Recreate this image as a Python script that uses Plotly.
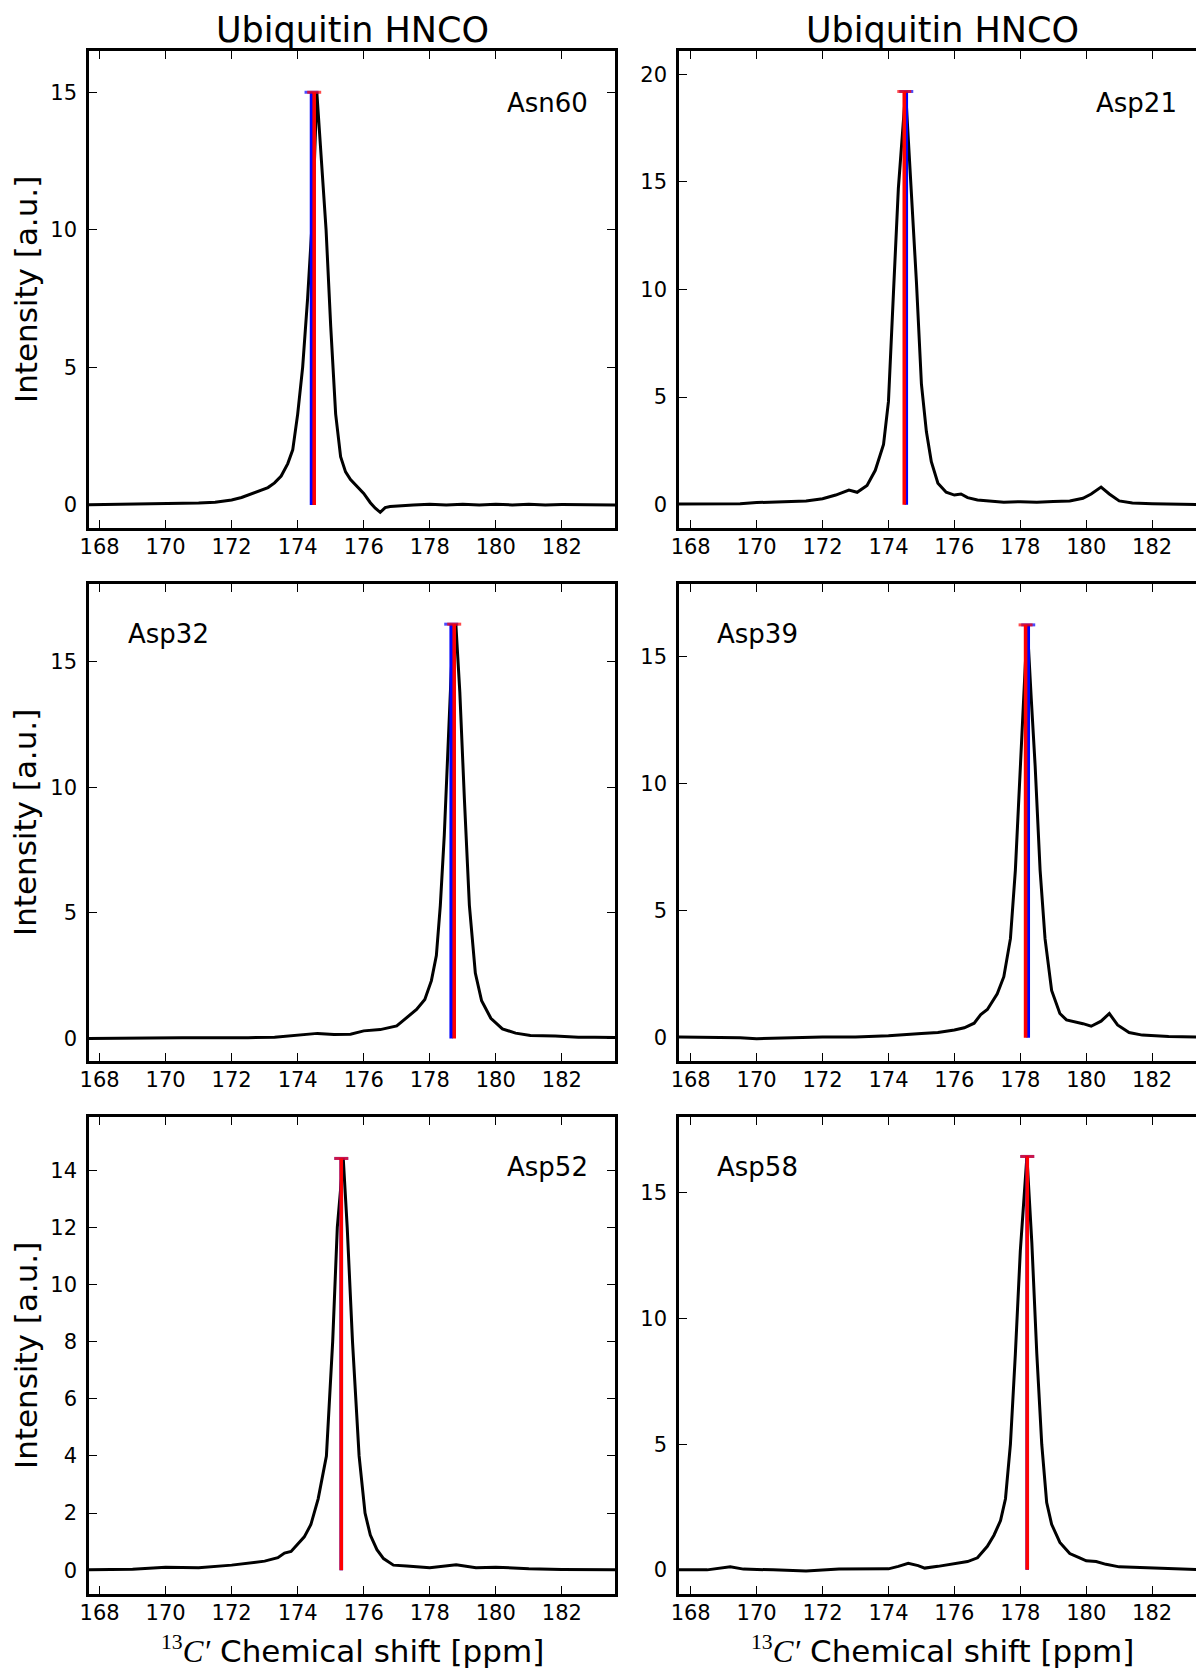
import plotly.graph_objects as go

# ---------------- data ----------------
residues = ["Asn60", "Asp21", "Asp32", "Asp39", "Asp52", "Asp58"]

x_asn60 = [167.6, 168.5, 169.0, 169.5, 170.0, 170.5, 171.0, 171.5, 172.0, 172.3, 172.6, 172.9, 173.1, 173.3,
           173.5, 173.7, 173.85, 174.0, 174.15, 174.3, 174.45, 174.58, 174.72, 174.86, 175.0, 175.15, 175.3,
           175.45, 175.6, 175.8, 176.0, 176.2, 176.35, 176.5, 176.65, 176.8, 177.0, 177.5, 178.0, 178.5,
           179.0, 179.5, 180.0, 180.5, 181.0, 181.5, 182.0, 182.5, 183.0, 183.7]
y_asn60 = [0.0, 0.02, 0.03, 0.04, 0.05, 0.05, 0.07, 0.1, 0.18, 0.27, 0.4, 0.52, 0.63, 0.8,
           1.05, 1.5, 2.0, 3.3, 5.0, 7.5, 10.5, 15.0, 12.3, 10.0, 6.5, 3.3, 1.75,
           1.2, 0.92, 0.65, 0.42, 0.08, -0.12, -0.27, -0.1, -0.06, -0.04, 0.0, 0.02, 0.0,
           0.02, 0.0, 0.02, 0.0, 0.02, 0.0, 0.01, 0.0, 0.0, 0.0]

x_asp21 = [167.6, 168.5, 169.0, 169.5, 170.0, 170.5, 171.0, 171.5, 172.0, 172.4, 172.8, 173.05, 173.35,
           173.6, 173.85, 174.0, 174.15, 174.3, 174.52, 174.7, 174.85, 175.0, 175.15, 175.3, 175.5, 175.75,
           176.0, 176.2, 176.4, 176.7, 177.0, 177.5, 178.0, 178.5, 179.0, 179.5, 179.9, 180.15, 180.45,
           180.7, 181.0, 181.4, 182.0, 182.5, 183.0, 183.7]
y_asp21 = [0.03, 0.04, 0.03, 0.05, 0.1, 0.12, 0.14, 0.18, 0.28, 0.45, 0.68, 0.58, 0.9,
           1.6, 2.8, 4.8, 9.8, 14.7, 19.2, 14.6, 10.3, 5.6, 3.4, 2.0, 1.0, 0.58,
           0.45, 0.5, 0.33, 0.22, 0.17, 0.12, 0.14, 0.12, 0.15, 0.17, 0.3, 0.5, 0.82,
           0.5, 0.18, 0.08, 0.05, 0.03, 0.02, 0.0]

x_asp32 = [167.6, 168.5, 169.5, 170.5, 171.5, 172.5, 173.3, 173.9, 174.6, 175.1, 175.6, 176.0, 176.5,
           177.0, 177.35, 177.6, 177.85, 178.05, 178.2, 178.32, 178.44, 178.56, 178.67, 178.79, 178.91,
           179.05, 179.2, 179.38, 179.57, 179.85, 180.2, 180.6, 181.05, 181.8, 182.5, 183.0, 183.7]
y_asp32 = [0.0, 0.02, 0.02, 0.03, 0.02, 0.03, 0.05, 0.12, 0.2, 0.16, 0.17, 0.3, 0.35,
           0.5, 0.9, 1.15, 1.55, 2.3, 3.3, 5.3, 8.1, 11.9, 15.2, 16.5, 13.8,
           9.5, 5.3, 2.6, 1.5, 0.8, 0.38, 0.21, 0.12, 0.1, 0.05, 0.05, 0.03]

x_asp39 = [167.6, 168.5, 169.5, 170.0, 171.0, 172.0, 173.0, 174.0, 175.0, 175.5, 176.0, 176.3, 176.6,
           176.8, 177.0, 177.3, 177.5, 177.7, 177.85, 178.0, 178.1, 178.21, 178.33, 178.45, 178.6, 178.75,
           178.95, 179.2, 179.4, 179.7, 179.9, 180.15, 180.45, 180.7, 180.95, 181.3, 181.7, 182.5, 183.0, 183.7]
y_asp39 = [0.03, 0.02, 0.0, -0.04, 0.0, 0.03, 0.03, 0.07, 0.16, 0.2, 0.3, 0.39, 0.57,
           0.91, 1.11, 1.73, 2.4, 3.9, 6.6, 10.7, 13.4, 16.26, 13.4, 10.7, 6.6, 3.9,
           1.86, 0.95, 0.7, 0.62, 0.55, 0.45, 0.65, 0.95, 0.5, 0.2, 0.1, 0.05, 0.03, 0.02]

x_asp52 = [167.6, 168.5, 169.0, 170.0, 171.0, 172.0, 172.6, 173.0, 173.4, 173.6, 173.8, 174.0, 174.2,
           174.4, 174.62, 174.87, 175.06, 175.2, 175.38, 175.5, 175.66, 175.86, 176.04, 176.2, 176.4,
           176.6, 176.9, 177.3, 178.0, 178.8, 179.4, 180.0, 181.0, 182.0, 183.0, 183.7]
y_asp52 = [0.02, 0.03, 0.04, 0.11, 0.09, 0.18, 0.27, 0.32, 0.44, 0.6, 0.66, 0.91, 1.17,
           1.6, 2.5, 4.0, 8.0, 12.0, 14.41, 12.0, 8.0, 4.0, 2.0, 1.23, 0.72,
           0.41, 0.18, 0.15, 0.09, 0.19, 0.09, 0.11, 0.05, 0.03, 0.02, 0.02]

x_asp58 = [167.6, 168.5, 169.2, 169.6, 170.5, 171.5, 172.5, 173.5, 174.0, 174.3, 174.6, 174.9, 175.1,
           175.5, 176.0, 176.4, 176.7, 177.0, 177.2, 177.4, 177.55, 177.7, 177.85, 178.0, 178.2, 178.35,
           178.5, 178.65, 178.8, 178.95, 179.2, 179.5, 179.8, 180.0, 180.3, 180.6, 181.0, 182.0, 183.0, 183.7]
y_asp58 = [0.0, 0.0, 0.12, 0.03, 0.0, -0.04, 0.03, 0.03, 0.04, 0.14, 0.26, 0.17, 0.07,
           0.14, 0.25, 0.33, 0.48, 0.94, 1.38, 1.96, 2.83, 5.0, 8.6, 12.7, 16.45, 13.0,
           8.6, 5.0, 2.68, 1.81, 1.09, 0.65, 0.48, 0.36, 0.33, 0.22, 0.12, 0.07, 0.02, 0.0]

# assigned peak positions (blue / red sticks) and stick heights
blue_ppm = [174.42, 174.54, 178.65, 178.24, 175.32, 178.21]
red_ppm = [174.50, 174.48, 178.74, 178.16, 175.32, 178.21]
stick_height = [15.0, 19.2, 16.5, 16.26, 14.41, 16.45]

# axis ticks / ranges
x_ticks = [168, 170, 172, 174, 176, 178, 180, 182]
y_ticks = [[0, 5, 10, 15], [0, 5, 10, 15, 20], [0, 5, 10, 15], [0, 5, 10, 15],
           [0, 2, 4, 6, 8, 10, 12, 14], [0, 5, 10, 15]]
y_ranges = [[-0.84, 16.5], [-1.08, 21.08], [-0.9, 18.1], [-0.92, 17.87], [-0.83, 15.86], [-0.96, 18.02]]
x_ranges = [[167.68, 183.61], [167.645, 183.33]]

spectra_x = [x_asn60, x_asp21, x_asp32, x_asp39, x_asp52, x_asp58]
spectra_y = [y_asn60, y_asp21, y_asp32, y_asp39, y_asp52, y_asp58]

title_text = "Ubiquitin HNCO"
ylabel_text = "Intensity [a.u.]"
xlabel_text = ('<span style="font-family:\'Liberation Serif\'"><sup>13</sup><i>C\u2032</i></span>'
               ' Chemical shift [ppm]')

# ---------------- layout geometry ----------------
W, H = 1196, 1668
col_dom = [[89.0 / W, 615.0 / W], [679.0 / W, 1.0]]
row_px = [(51.0, 528.0), (584.0, 1061.0), (1117.0, 1594.0)]
row_dom = [[1 - b / H, 1 - t / H] for (t, b) in row_px]

FONT = "DejaVu Sans"
TICK_SIZE = 21
fig = go.Figure()
layout = dict(
    template="none",
    width=W, height=H, autosize=False,
    margin=dict(l=0, r=0, t=0, b=0, pad=0, autoexpand=False),
    paper_bgcolor="white", plot_bgcolor="white",
    showlegend=False,
    font=dict(family=FONT, color="black"),
)

for i in range(6):
    r, c = divmod(i, 2)
    n = i + 1
    xa = "x" if n == 1 else f"x{n}"
    ya = "y" if n == 1 else f"y{n}"
    fig.add_trace(go.Scatter(x=spectra_x[i], y=spectra_y[i], mode="lines",
                             line=dict(color="black", width=3), xaxis=xa, yaxis=ya,
                             hoverinfo="skip"))
    for pos, col in ((blue_ppm[i], "#0000ff"), (red_ppm[i], "#ff0000")):
        fig.add_trace(go.Scatter(x=[pos, pos], y=[0, stick_height[i]], mode="lines+markers",
                                 line=dict(color=col, width=3.6),
                                 marker=dict(symbol="line-ew", size=[0, 10], color=col,
                                             line=dict(color=col, width=3)),
                                 xaxis=xa, yaxis=ya, hoverinfo="skip"))
    layout[f"xaxis{'' if n == 1 else n}"] = dict(
        domain=col_dom[c], range=x_ranges[c], anchor=ya, automargin=False,
        tickmode="array", tickvals=x_ticks, ticktext=[str(v) for v in x_ticks],
        ticks="inside", ticklen=8, tickwidth=1, tickcolor="black",
        showline=True, linecolor="black", linewidth=2.5, mirror="ticks",
        showgrid=False, zeroline=False, tickfont=dict(size=TICK_SIZE, family=FONT, color="black"),
        ticklabelstandoff=-2,
    )
    layout[f"yaxis{'' if n == 1 else n}"] = dict(
        domain=row_dom[r], range=y_ranges[i], anchor=xa, automargin=False,
        tickmode="array", tickvals=y_ticks[i], ticktext=[str(v) for v in y_ticks[i]],
        ticks="inside", ticklen=8, tickwidth=1, tickcolor="black",
        showline=True, linecolor="black", linewidth=2.5,
        mirror="ticks" if c == 0 else False,
        showgrid=False, zeroline=False, tickfont=dict(size=TICK_SIZE, family=FONT, color="black"),
        ticklabelstandoff=5,
    )

annotations = []
# column titles
for cx in (352.0, 942.0):
    annotations.append(dict(text=title_text, x=cx / W, y=1 - 30.0 / H, xref="paper", yref="paper",
                            xanchor="center", yanchor="middle", showarrow=False,
                            font=dict(size=35, family=FONT, color="black")))
# y labels
for (t, b) in row_px:
    annotations.append(dict(text=ylabel_text, x=25.5 / W, y=1 - (t + b) / 2 / H, xref="paper",
                            yref="paper", xanchor="center", yanchor="middle", textangle=-90,
                            showarrow=False, font=dict(size=31, family=FONT, color="black")))
# x labels
for cx in (352.0, 942.0):
    annotations.append(dict(text=xlabel_text, x=cx / W, y=1 - 1649.0 / H, xref="paper", yref="paper",
                            xanchor="center", yanchor="middle", showarrow=False,
                            font=dict(size=31, family=FONT, color="black")))
# residue labels (pixel anchor, alignment)
label_pos = [(589.5, 103.0, "right"), (1179.0, 103.0, "right"), (125.6, 634.0, "left"),
             (715.0, 634.0, "left"), (589.5, 1167.0, "right"), (715.0, 1167.0, "left")]
for name, (px, py, anc) in zip(residues, label_pos):
    annotations.append(dict(text=name, x=px / W, y=1 - py / H, xref="paper", yref="paper",
                            xanchor=anc, yanchor="middle", showarrow=False,
                            font=dict(size=26, family=FONT, color="black")))

layout["annotations"] = annotations
fig.update_layout(**layout)
fig.write_html("out.html")
